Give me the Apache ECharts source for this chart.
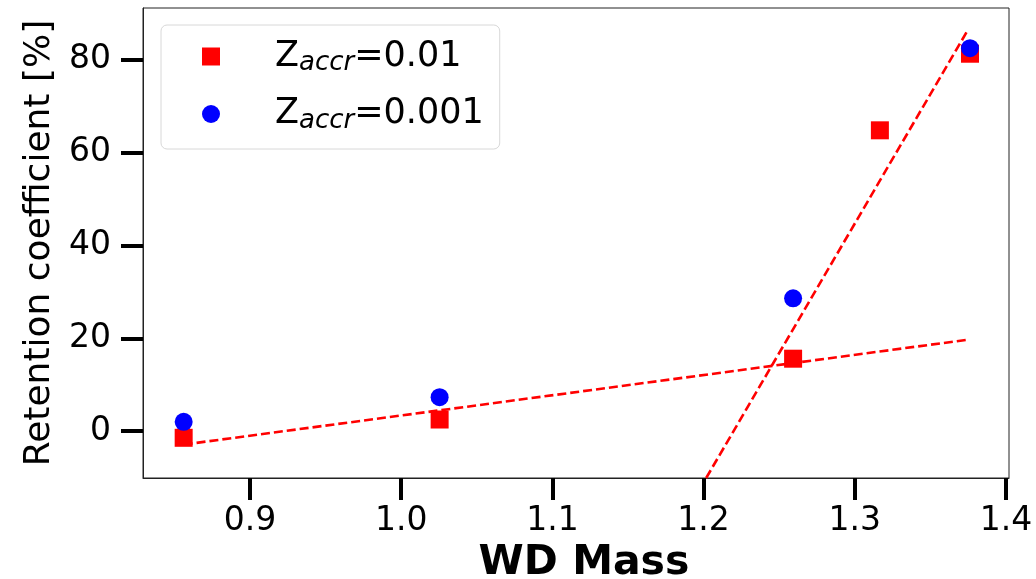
<!DOCTYPE html>
<html>
<head>
<meta charset="utf-8">
<script src="https://cdn.jsdelivr.net/npm/echarts@6/dist/echarts.min.js"></script>
<style>html,body{margin:0;padding:0;background:#fff}#c{width:1036px;height:579px}</style>
</head>
<body>
<div id="c"></div>
<script>
const massRed = [0.8561, 1.0254, 1.2592, 1.3166, 1.3762];
const retRed = [-1.44, 2.5, 15.6, 64.8, 81.3];
const massBlue = [0.8561, 1.0254, 1.2592, 1.3762];
const retBlue = [2.0, 7.3, 28.6, 82.5];
const fit1X = [0.8561, 1.375];
const fit1Y = [-2.9, 19.7];
const fit2X = [1.2017, 1.3746];
const fit2Y = [-10.1, 86.3];
const xTicks = [0.9, 1.0, 1.1, 1.2, 1.3, 1.4];
const yTicks = [0, 20, 40, 60, 80];
const seriesNames = ['Z_accr=0.01', 'Z_accr=0.001'];

const F = 'DejaVu Sans';
const zip = (a, b) => a.map((v, i) => [v, b[i]]);
const chart = echarts.init(document.getElementById('c'), null, {renderer: 'canvas'});
chart.setOption({
  animation: false,
  backgroundColor: '#fff',
  grid: {left: 143, right: 27, top: 8, bottom: 101, show: true, borderColor: '#222', borderWidth: 1,
    containLabel: false, outerBoundsMode: 'none'},
  xAxis: {
    type: 'value', min: 0.8292, max: 1.402,
    name: 'WD Mass', nameLocation: 'middle', nameGap: 38,
    nameTextStyle: {fontFamily: F, fontSize: 41, fontWeight: 'bold', color: '#000', padding: [0, 0, 0, 16]},
    axisLine: {show: true, onZero: false, lineStyle: {color: '#222', width: 1}},
    axisTick: {show: true, inside: false, length: 22, customValues: xTicks, lineStyle: {color: '#000', width: 4}},
    axisLabel: {customValues: xTicks, margin: 27, fontFamily: F, fontSize: 33, color: '#000',
      formatter: v => v.toFixed(1)},
    splitLine: {show: false}
  },
  yAxis: {
    type: 'value', min: -10.1, max: 91.15,
    name: 'Retention coefficient [%]', nameLocation: 'middle', nameGap: 73,
    nameTextStyle: {fontFamily: F, fontSize: 36, color: '#000'},
    axisLine: {show: true, onZero: false, lineStyle: {color: '#222', width: 1}},
    axisTick: {show: true, inside: false, length: 22, customValues: yTicks, lineStyle: {color: '#000', width: 4}},
    axisLabel: {customValues: yTicks, margin: 32, fontFamily: F, fontSize: 33, color: '#000'},
    splitLine: {show: false}
  },
  legend: {
    orient: 'vertical', left: 161, top: 25,
    padding: [14, 16, 15, 41], itemGap: 20,
    itemWidth: 18, itemHeight: 18,
    borderColor: '#d8d8d8', borderWidth: 1, borderRadius: 6,
    backgroundColor: 'rgba(255,255,255,0.85)',
    data: seriesNames,
    formatter: function (name) {
      const val = name.split('=')[1];
      return '{sp|}{n|Z}{s|accr}{n|=' + val + '}';
    },
    textStyle: {
      fontFamily: F, color: '#000',
      rich: {
        sp: {width: 50},
        n: {fontFamily: F, fontSize: 35, lineHeight: 40, color: '#000'},
        s: {fontFamily: F, fontSize: 26, fontStyle: 'italic', color: '#000', verticalAlign: 'bottom', lineHeight: 22}
      }
    }
  },
  series: [
    {type: 'line', data: zip(fit1X, fit1Y), symbol: 'none', silent: true, z: 1,
      lineStyle: {color: '#ff0000', width: 2.6, type: [9, 4]}},
    {type: 'line', data: zip(fit2X, fit2Y), symbol: 'none', silent: true, z: 1, clip: true,
      lineStyle: {color: '#ff0000', width: 2.6, type: [9, 4]}},
    {name: seriesNames[0], type: 'scatter', data: zip(massRed, retRed), symbol: 'rect', symbolSize: 18, z: 3,
      itemStyle: {color: '#ff0000', opacity: 1}},
    {name: seriesNames[1], type: 'scatter', data: zip(massBlue, retBlue), symbol: 'circle', symbolSize: 18, z: 4,
      itemStyle: {color: '#0000ff', opacity: 1}}
  ]
});
</script>
</body>
</html>
